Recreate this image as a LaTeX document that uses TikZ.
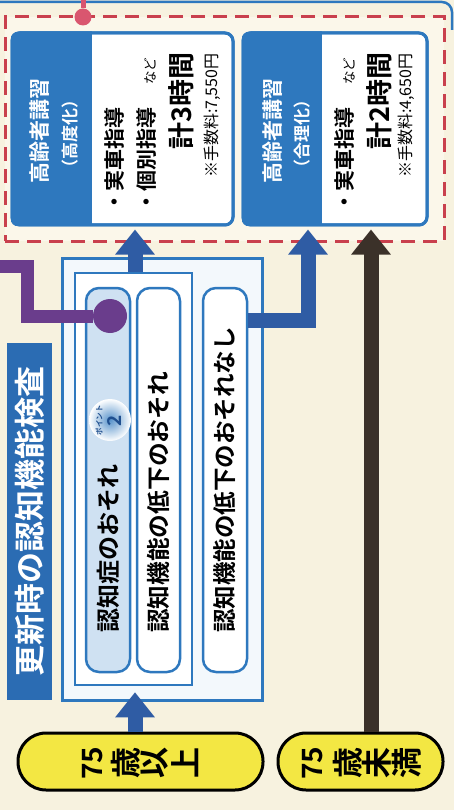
\documentclass[tikz,border=0pt]{standalone}
\usepackage{fontspec}
\newfontfamily\jp{Noto Sans CJK JP}[BoldFont={Noto Sans CJK JP Bold}]
\usetikzlibrary{arrows.meta,calc,shadings}
\definecolor{bg}{HTML}{F7F2DF}
\definecolor{bgin}{HTML}{FBF7EA}
\definecolor{boxblue}{HTML}{2E78BE}
\definecolor{arrowblue}{HTML}{2F5CA4}
\definecolor{titleblue}{HTML}{2B6CB3}
\definecolor{dashred}{HTML}{C9404D}
\definecolor{purplec}{HTML}{6A3D8C}
\definecolor{pinkc}{HTML}{D9566F}
\definecolor{blackarrow}{HTML}{3B3129}
\definecolor{yellowc}{HTML}{F3E743}
\definecolor{pillafill}{HTML}{CFE1F2}
\definecolor{contfill}{HTML}{F3F8FC}
\definecolor{darkblue}{HTML}{1F4F8F}
\tikzset{
  fs/.style={font=\jp\fontsize{#1}{#1}\selectfont},
  fsb/.style={font=\jp\bfseries\fontsize{#1}{#1}\selectfont},
  vtxt/.style={rotate=90, inner sep=0pt},
  course/.style={draw=boxblue, line width=3pt, rounded corners=8pt, inner sep=0pt},
  pillbox/.style={draw=boxblue, line width=2.5pt, rounded corners=13pt, inner sep=0pt},
  agepill/.style={draw=black, line width=3pt, fill=yellowc, rounded corners=28pt, inner sep=0pt},
  bluearrow/.style={draw=arrowblue, line width=15pt, -{Triangle[width=38pt,length=25pt]}},
  darkarrow/.style={draw=blackarrow, line width=15pt, -{Triangle[width=38pt,length=25pt]}},
}
\begin{document}
\begin{tikzpicture}[x=1pt,y=-1pt]
\useasboundingbox (0,0) rectangle (454,810);
\fill[bg] (0,0) rectangle (454,810);
% outer panel edge
\draw[boxblue, line width=2.5pt, rounded corners=10pt] (-5,2) -- (452,2) -- (452,30);
% dashed zone
\node[draw=dashred, line width=3pt, dash pattern=on 14pt off 8pt, fill=bgin,
      minimum width=439pt, minimum height=224pt, inner sep=0pt] (zone) at (224.5,129) {};
% pink connector
\coordinate (pk0) at (83,-3);
\node[circle, fill=pinkc, minimum size=17pt, inner sep=0pt] (pkdot) at (83,17) {};
\draw[pinkc, line width=5pt] (pk0) -- (pkdot);
% course box 1
\node[course, fill=white, minimum width=221pt, minimum height=192pt] (b1) at (122.5,129) {};
\begin{scope}
  \clip[rounded corners=8pt] (b1.north west) rectangle (b1.south east);
  \fill[boxblue] (b1.north west) rectangle ($(b1.south west)+(81,0)$);
\end{scope}
\node[course, minimum width=221pt, minimum height=192pt] at (b1) {};
\node[vtxt, fsb=21, text=white] (b1t1) at (40,131) {高齢者講習};
\node[vtxt, fsb=17, text=white] (b1t2) at (70,134) {（高度化）};
\node[vtxt, fsb=21, anchor=west] (b1t3) at (114.5,213) {・実車指導};
\node[vtxt, fsb=21, anchor=west] (b1t4) at (146.5,213) {・個別指導};
\node[vtxt, fs=13.5, anchor=west] (b1t5) at (150,85) {など};
\node[vtxt, fsb=27, anchor=west] (b1t6) at (181,150) {計3時間};
\node[vtxt, fs=16, anchor=west] (b1t7) at (212,178) {※手数料:7,550円};
% course box 2
\node[course, fill=white, minimum width=184pt, minimum height=192pt] (b2) at (335,129) {};
\begin{scope}
  \clip[rounded corners=8pt] (b2.north west) rectangle (b2.south east);
  \fill[boxblue] (b2.north west) rectangle ($(b2.south west)+(80,0)$);
\end{scope}
\node[course, minimum width=184pt, minimum height=192pt] at (b2) {};
\node[vtxt, fsb=21, text=white] (b2t1) at (273,131) {高齢者講習};
\node[vtxt, fsb=17, text=white] (b2t2) at (302,134) {（合理化）};
\node[vtxt, fsb=21, anchor=west] (b2t3) at (345,213) {・実車指導};
\node[vtxt, fs=13.5, anchor=west] (b2t5) at (349,85) {など};
\node[vtxt, fsb=27, anchor=west] (b2t6) at (379,150) {計2時間};
\node[vtxt, fs=16, anchor=west] (b2t7) at (406,178) {※手数料:4,650円};
% cognitive test container
\node[draw=boxblue, line width=3pt, fill=contfill, minimum width=200pt, minimum height=442pt, inner sep=0pt] (cont) at (162,479) {};
\node[draw=boxblue, line width=2.5pt, fill=white, minimum width=117pt, minimum height=412pt, inner sep=0pt] (inner) at (133.5,479) {};
\node[pillbox, fill=pillafill, minimum width=44pt, minimum height=384pt] (pillA) at (108,480) {};
\node[pillbox, fill=white, minimum width=43pt, minimum height=384pt] (pillB) at (158.5,480) {};
\node[pillbox, fill=white, minimum width=44pt, minimum height=384pt] (pillC) at (225,480) {};
\node[vtxt, fsb=24, anchor=west] (tA) at (108,633) {認知症のおそれ};
\node[vtxt, fsb=23.7, anchor=west] (tB) at (158,633) {認知機能の低下のおそれ};
\node[vtxt, fsb=23.5, anchor=west] (tC) at (225,633) {認知機能の低下のおそれなし};
% point badge
\node[circle, minimum size=42pt, inner sep=0pt, inner color=boxblue!80, outer color=white] (badge) at (110,420) {};
\node[vtxt, fsb=7.5, text=darkblue] (badget) at (99,420) {ポイント};
\node[vtxt, fsb=19, text=darkblue] (badgen) at (115,421) {2};
% title band
\node[fill=titleblue, text=white, rotate=90, minimum width=357pt, minimum height=45pt, inner sep=0pt, fsb=31] (title) at (29.5,521.5) {更新時の認知機能検査};
% purple connector
\coordinate (pp0) at (-3,266.5);
\coordinate (pcorner) at (27.5,316);
\node[circle, fill=purplec, minimum size=34pt, inner sep=0pt] (pdot) at (110,316) {};
\draw[purplec, line width=13pt, line join=miter] (pp0) -| (pcorner) -- (pdot);
% age pills
\node[agepill, minimum width=245pt, minimum height=57pt] (p75a) at (140.5,761.5) {};
\node[agepill, minimum width=165pt, minimum height=57pt] (p75b) at (360.5,761.5) {};
\node[vtxt, fsb=28] (a1) at (93,763) {75};
\node[vtxt, fsb=31] (a2) at (126,763) {歳};
\node[vtxt, fsb=31] (a3) at (155,763) {以};
\node[vtxt, fsb=31] (a4) at (185,763) {上};
\node[vtxt, fsb=28] (c1) at (313,763) {75};
\node[vtxt, fsb=31] (c2) at (348,763) {歳};
\node[vtxt, fsb=31] (c3) at (377,763) {未};
\node[vtxt, fsb=31] (c4) at (407,763) {満};
% arrows
\coordinate (ax1) at (135,0);
\coordinate (ax2) at (308,0);
\coordinate (ax3) at (371,0);
\coordinate (h2) at (0,320);
\draw[bluearrow, shorten >=3pt] (inner.north -| ax1) -- (b1.south -| ax1);
\draw[bluearrow, shorten >=3pt, line join=miter] (pillC.east |- h2) -| (b2.south -| ax2);
\draw[darkarrow, shorten >=3pt] (p75b.north -| ax3) -- (b2.south -| ax3);
\draw[bluearrow, shorten >=6pt] (p75a.north -| ax1) -- (inner.south -| ax1);
\end{tikzpicture}
\end{document}
